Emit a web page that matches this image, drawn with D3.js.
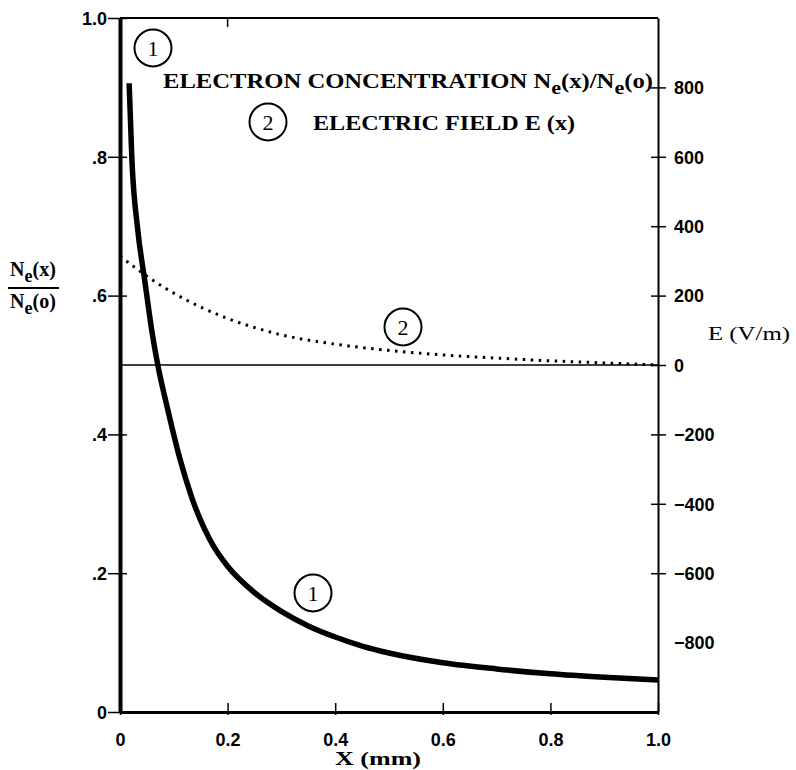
<!DOCTYPE html>
<html>
<head>
<meta charset="utf-8">
<script src="https://cdn.jsdelivr.net/npm/d3@7"></script>
<style>
  body { margin: 0; background: #fff; }
  .tick-lbl { font-family: "Liberation Sans", Arial, sans-serif; font-weight: bold; font-size: 18px; }
  .serif { font-family: "Liberation Serif", "Times New Roman", serif; }
</style>
</head>
<body>
<svg width="796" height="770"></svg>
<script>
// x positions (mm)
const X_TICKS = [0, 0.2, 0.4, 0.6, 0.8, 1.0];
const X_LABELS = ['0', '0.2', '0.4', '0.6', '0.8', '1.0'];
const N_TICKS = [0, 0.2, 0.4, 0.6, 0.8, 1.0];
const N_LABELS = ['0', '.2', '.4', '.6', '.8', '1.0'];
const E_TICKS = [-800, -600, -400, -200, 0, 200, 400, 600, 800];
const E_LABELS = ['\u2212800', '\u2212600', '\u2212400', '\u2212200', '0', '200', '400', '600', '800'];

// curve 1: electron concentration Ne(x)/Ne(o)
const NE_X = [0.017, 0.022, 0.033, 0.046, 0.059, 0.071, 0.089, 0.112, 0.133, 0.173, 0.2, 0.25, 0.3, 0.35, 0.4, 0.45, 0.5, 0.6, 0.7, 0.8, 0.9, 1.0];
const NE_VAL = [0.906, 0.798, 0.695, 0.622, 0.55, 0.497, 0.435, 0.363, 0.31, 0.24, 0.21, 0.172, 0.145, 0.124, 0.108, 0.095, 0.085, 0.071, 0.062, 0.055, 0.05, 0.046];

// curve 2: electric field E(x), V/m
const E_X = [0, 0.05, 0.1, 0.15, 0.2, 0.25, 0.3, 0.4, 0.5, 0.6, 0.7, 0.8, 0.9, 1.0];
const E_VAL = [314, 256, 207, 167, 134, 108, 87, 60, 42, 29, 20, 12, 6, 0];

const x = d3.scaleLinear().domain([0, 1]).range([120, 658]);
const yN = d3.scaleLinear().domain([0, 1]).range([712, 18]);
const yE = d3.scaleLinear().domain([-1000, 1000]).range([712, 18]);

const svg = d3.select('svg');

// frame: top line with its single tick
svg.append('line').attr('x1', x(0)).attr('x2', x(1)).attr('y1', yN(1)).attr('y2', yN(1))
  .attr('stroke', '#000').attr('stroke-width', 2);
svg.append('line').attr('x1', x(0.2)).attr('x2', x(0.2)).attr('y1', yN(1)).attr('y2', yN(1) + 9)
  .attr('stroke', '#000').attr('stroke-width', 1.5);

// zero field line
svg.append('line').attr('x1', x(0)).attr('x2', x(1)).attr('y1', yE(0)).attr('y2', yE(0))
  .attr('stroke', '#000').attr('stroke-width', 1.6);

// left axis
const left = svg.append('g').attr('transform', `translate(${x(0)},0)`)
  .call(d3.axisLeft(yN).tickValues(N_TICKS).tickFormat((d, i) => N_LABELS[i]).tickSizeOuter(0));
left.select('.domain').attr('stroke-width', 4);
left.selectAll('.tick line').attr('x1', 7).attr('x2', -12).attr('stroke-width', 1.5);
left.selectAll('.tick text').attr('x', -13).attr('dy', '0.35em').classed('tick-lbl', true)
  .attr('font-family', null).attr('font-size', null);

// right axis
const right = svg.append('g').attr('transform', `translate(${x(1)},0)`)
  .call(d3.axisRight(yE).tickValues(E_TICKS).tickFormat((d, i) => E_LABELS[i]).tickSizeOuter(0));
right.select('.domain').attr('stroke-width', 2);
right.selectAll('.tick line').attr('x1', -7).attr('x2', 8).attr('stroke-width', 1.5)
  .attr('opacity', d => d === -800 ? 0 : 1);
right.selectAll('.tick text').attr('x', 16).attr('dy', '0.35em').classed('tick-lbl', true)
  .attr('font-family', null).attr('font-size', null);

// bottom axis
const bottom = svg.append('g').attr('transform', `translate(0,${yN(0)})`)
  .call(d3.axisBottom(x).tickValues(X_TICKS).tickFormat((d, i) => X_LABELS[i]).tickSizeOuter(0));
bottom.select('.domain').attr('stroke-width', 3);
bottom.selectAll('.tick line').attr('y1', -9).attr('y2', 3).attr('stroke-width', 1.5);
bottom.selectAll('.tick text').attr('y', 28).attr('dy', '0.35em').classed('tick-lbl', true)
  .attr('font-family', null).attr('font-size', null);

// curves
const lineN = d3.line().x((d, i) => x(NE_X[i])).y(d => yN(d)).curve(d3.curveMonotoneX);
svg.append('path').attr('d', lineN(NE_VAL)).attr('fill', 'none')
  .attr('stroke', '#000').attr('stroke-width', 5.5).attr('stroke-linecap', 'butt');

const lineE = d3.line().x((d, i) => x(E_X[i])).y(d => yE(d)).curve(d3.curveMonotoneX);
svg.append('path').attr('d', lineE(E_VAL)).attr('fill', 'none')
  .attr('stroke', '#000').attr('stroke-width', 3).attr('stroke-dasharray', '2.5,5.5');

// circled labels
function circled(cx, cy, t) {
  svg.append('circle').attr('cx', cx).attr('cy', cy).attr('r', 18.5)
    .attr('fill', '#fff').attr('stroke', '#000').attr('stroke-width', 2);
  svg.append('text').attr('x', cx).attr('y', cy).attr('dy', '0.36em').attr('text-anchor', 'middle')
    .classed('serif', true).attr('font-size', 22).text(t);
}
circled(153, 48, '1');
circled(268, 122, '2');
circled(403, 327, '2');
circled(313, 593, '1');

// legend text
const l1 = svg.append('text').classed('serif', true).attr('font-weight', 'bold').attr('font-size', 20)
  .attr('x', 163).attr('y', 88).attr('textLength', 490).attr('lengthAdjust', 'spacingAndGlyphs');
l1.append('tspan').text('ELECTRON CONCENTRATION N');
l1.append('tspan').attr('dy', 6).attr('font-size', 18).text('e');
l1.append('tspan').attr('dy', -6).text('(x)/N');
l1.append('tspan').attr('dy', 6).attr('font-size', 18).text('e');
l1.append('tspan').attr('dy', -6).text('(o)');

svg.append('text').classed('serif', true).attr('font-weight', 'bold').attr('font-size', 20)
  .attr('x', 313).attr('y', 130).attr('textLength', 262).attr('lengthAdjust', 'spacingAndGlyphs')
  .text('ELECTRIC FIELD E (x)');

// right axis title
svg.append('text').classed('serif', true).attr('font-size', 18)
  .attr('x', 708).attr('y', 340).attr('textLength', 82).attr('lengthAdjust', 'spacingAndGlyphs')
  .text('E (V/m)');

// left axis title as fraction
function neText(yy, arg) {
  const t = svg.append('text').classed('serif', true).attr('font-weight', 'bold').attr('font-size', 20)
    .attr('x', 33).attr('y', yy).attr('text-anchor', 'middle');
  t.append('tspan').text('N');
  t.append('tspan').attr('dy', 6).attr('font-size', 18).text('e');
  t.append('tspan').attr('dy', -6).text(arg);
}
neText(276, '(x)');
svg.append('line').attr('x1', 8).attr('x2', 59).attr('y1', 288).attr('y2', 288)
  .attr('stroke', '#000').attr('stroke-width', 2);
neText(308, '(o)');

// x axis title
svg.append('text').classed('serif', true).attr('font-weight', 'bold').attr('font-size', 19)
  .attr('x', 378).attr('y', 765).attr('textLength', 86).attr('lengthAdjust', 'spacingAndGlyphs')
  .attr('text-anchor', 'middle').text('X (mm)');
</script>
</body>
</html>
